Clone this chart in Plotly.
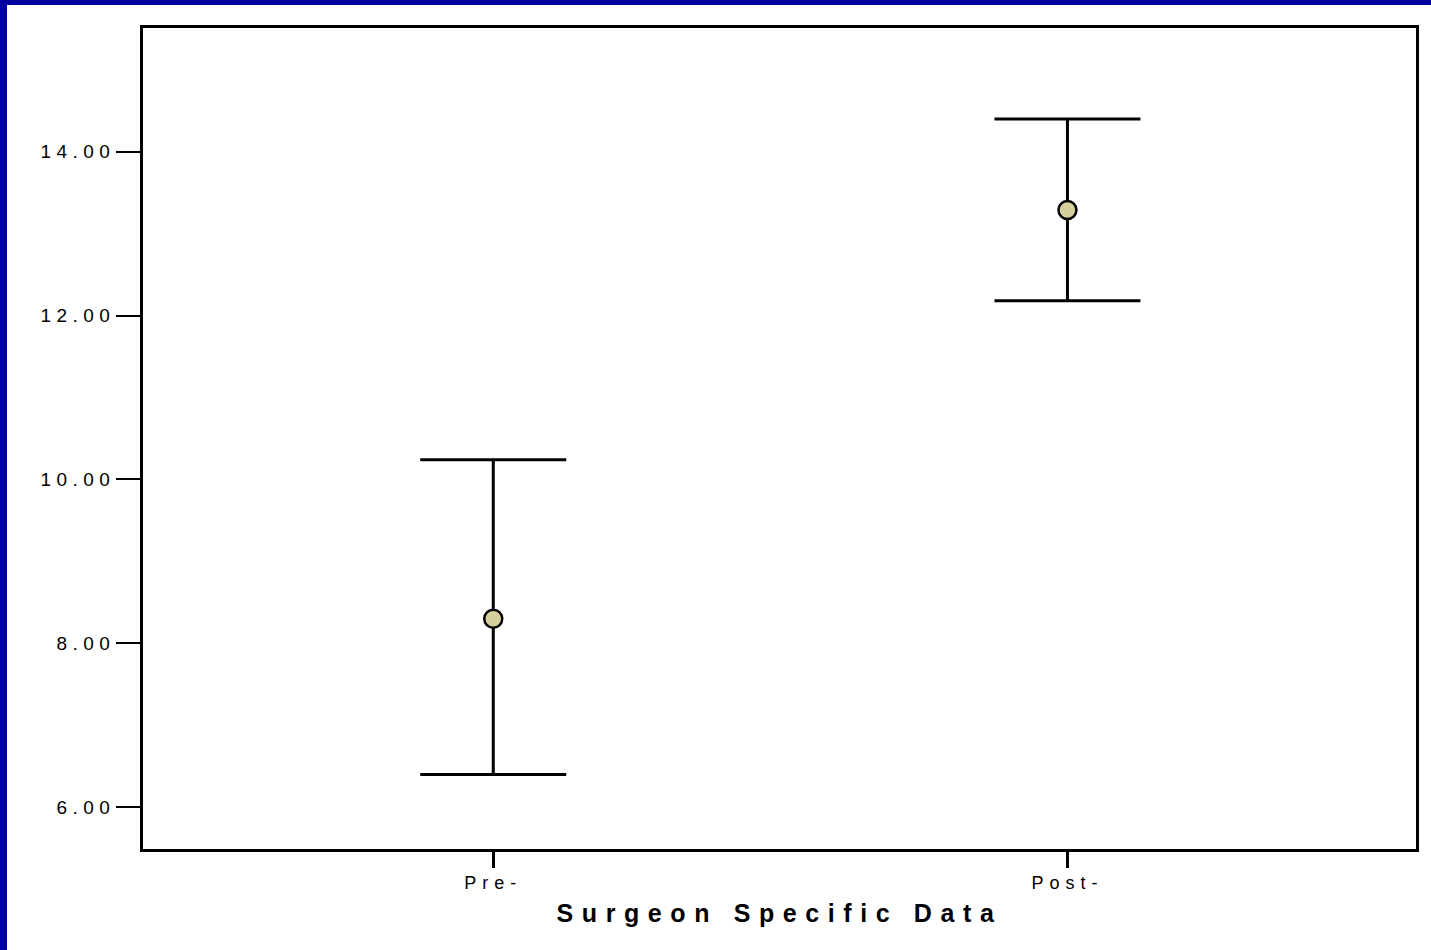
import plotly.graph_objects as go

categories = ["Pre-", "Post-"]
means = [8.30, 13.29]
upper = [10.24, 14.40]
lower = [6.40, 12.18]
y_ticks = [6, 8, 10, 12, 14]
y_tick_labels = ["6.00", "8.00", "10.00", "12.00", "14.00"]

W, H = 1431, 950
L, R, T, B = 143, 1416, 28, 849
pw, ph = R - L, B - T

def px_x(x):
    return (x - L) / pw

def px_y(y):
    return (B - y) / ph

fig = go.Figure()
fig.add_trace(go.Scatter(
    x=categories, y=means, mode="markers",
    marker=dict(size=18, color="#D6CF9C", line=dict(color="black", width=2.5)),
    error_y=dict(type="data", symmetric=False,
                 array=[u - m for u, m in zip(upper, means)],
                 arrayminus=[m - l for m, l in zip(means, lower)],
                 color="black", thickness=3, width=73),
    showlegend=False, hoverinfo="skip",
))

blue = "#0000A0"
fig.add_shape(type="rect", xref="paper", yref="paper", layer="below",
              x0=px_x(-5), x1=px_x(7), y0=px_y(H + 5), y1=px_y(-5),
              fillcolor=blue, line_width=0)
fig.add_shape(type="rect", xref="paper", yref="paper", layer="below",
              x0=px_x(-5), x1=px_x(W + 5), y0=px_y(5), y1=px_y(-5),
              fillcolor=blue, line_width=0)

font_family = "Liberation Sans, Arial, sans-serif"
fig.update_layout(
    width=W, height=H,
    margin=dict(l=L, r=W - R, t=T, b=H - B, autoexpand=False),
    paper_bgcolor="white", plot_bgcolor="white",
    font=dict(family=font_family, color="black"),
    xaxis=dict(
        type="category", range=[-0.61, 1.607],
        showline=True, mirror=True, linecolor="black", linewidth=2.5,
        ticks="outside", ticklen=16, tickwidth=2.5, tickcolor="black",
        showgrid=False, zeroline=False,
        tickfont=dict(size=18, family=font_family),
        title=dict(text="Surgeon Specific Data", standoff=13,
                   font=dict(size=25, family=font_family, weight="bold")),
        automargin=False,
    ),
    yaxis=dict(
        range=[5.49, 15.51],
        tickvals=y_ticks, ticktext=y_tick_labels,
        showline=True, mirror=True, linecolor="black", linewidth=2.5,
        ticks="outside", ticklen=24, tickwidth=2, tickcolor="black",
        showgrid=False, zeroline=False,
        tickfont=dict(size=19, family=font_family),
        automargin=False,
    ),
)

post = """
document.body.style.margin = '0';
var gd = document.getElementById('{plot_id}');
function spaceText() {
  gd.querySelectorAll('.ytick text').forEach(function(t){ t.style.letterSpacing = '5.5px'; t.setAttribute('dx', '3'); });
  gd.querySelectorAll('.xtick text').forEach(function(t){ t.style.letterSpacing = '6px'; });
  gd.querySelectorAll('.xtitle').forEach(function(t){ t.style.letterSpacing = '8.6px'; });
}
spaceText();
gd.on('plotly_afterplot', spaceText);
"""

fig.write_html("out.html", post_script=post, config={"displayModeBar": False})
